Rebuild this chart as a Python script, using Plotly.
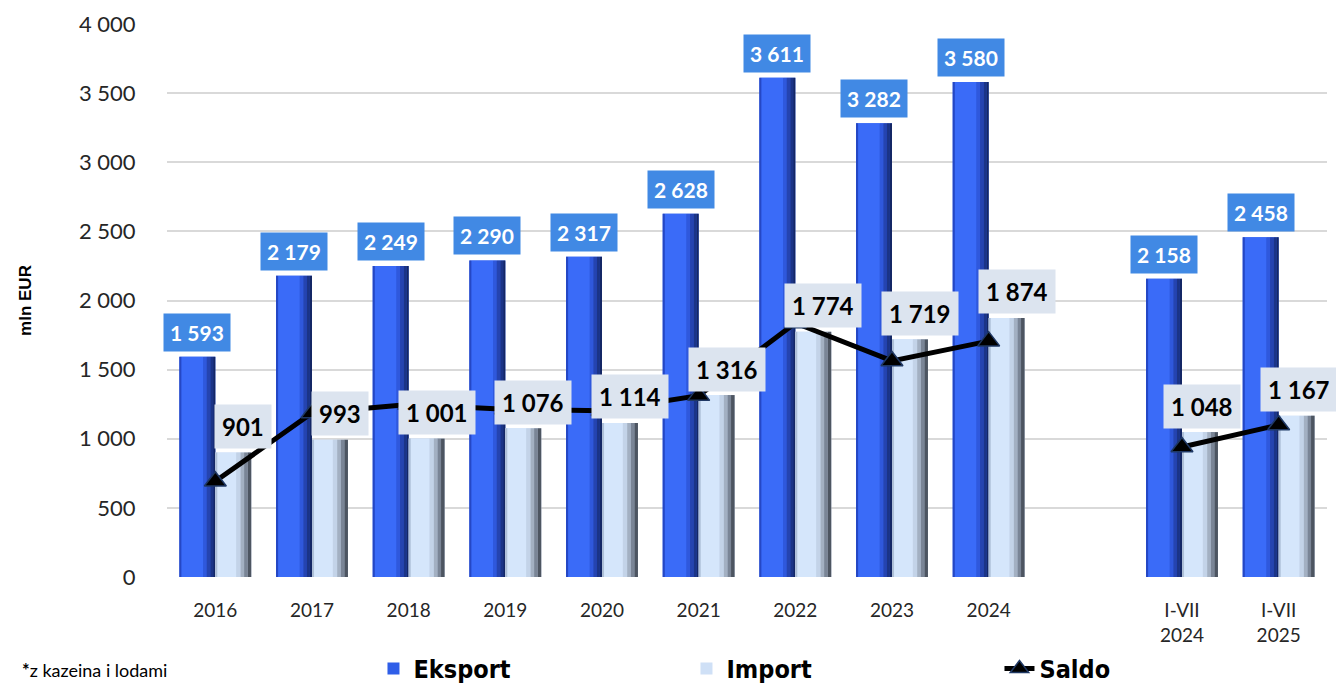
import plotly.graph_objects as go

# ---------------- data ----------------
categories = ["2016", "2017", "2018", "2019", "2020", "2021", "2022", "2023", "2024",
              "gap", "I-VII 2024", "I-VII 2025"]
tick_labels = ["2016", "2017", "2018", "2019", "2020", "2021", "2022", "2023", "2024",
               "", "I-VII<br>2024", "I-VII<br>2025"]
eksport = [1593, 2179, 2249, 2290, 2317, 2628, 3611, 3282, 3580, None, 2158, 2458]
import_ = [901, 993, 1001, 1076, 1114, 1316, 1774, 1719, 1874, None, 1048, 1167]
saldo = [692, 1186, 1248, 1214, 1203, 1312, 1837, 1563, 1706, None, 940, 1100]

# ---------------- style ----------------
BW = 0.372          # width of one bar (category units)
CAT_PX = 96.7       # approx pixels per category
FONT = "Lato"


def fmt(v):
    return f"{v:,}".replace(",", " ")


fig = go.Figure()


def add_bar(values, start, strips, name, legend_color):
    fig.add_trace(go.Bar(
        x=categories, y=values, name=name, offset=start, width=BW,
        marker=dict(color=legend_color, line=dict(width=0)),
        legendgroup=name, showlegend=True, hoverinfo="skip"))
    for a, b, color in strips:
        fig.add_trace(go.Bar(
            x=categories, y=values, name=name, offset=start + a * BW, width=(b - a) * BW,
            marker=dict(color=color, line=dict(width=0)),
            legendgroup=name, showlegend=False, hoverinfo="skip"))


eks_strips = [
    (0.00, 0.06, "#2547c4"),
    (0.06, 0.66, "#3a6bf8"),
    (0.66, 0.76, "#2f58dc"),
    (0.76, 0.86, "#2544b0"),
    (0.86, 0.94, "#1b3487"),
    (0.94, 1.00, "#142765"),
]
imp_strips = [
    (0.00, 0.06, "#aebfd6"),
    (0.06, 0.58, "#d5e6fb"),
    (0.58, 0.70, "#c3d3e8"),
    (0.70, 0.80, "#a3b0c2"),
    (0.80, 0.90, "#7a8596"),
    (0.90, 1.00, "#4d5561"),
]

add_bar(eksport, -BW, eks_strips, "Eksport", "#2f5ee8")
add_bar(import_, 0.0, imp_strips, "Import", "#cfe0f6")

fig.add_trace(go.Scatter(
    x=categories, y=saldo, name="Saldo", mode="lines+markers",
    line=dict(color="black", width=5),
    marker=dict(symbol="triangle-up", size=19, color="black",
                line=dict(color="#1f3864", width=1.5)),
    connectgaps=False, hoverinfo="skip"))

# ---------------- labels ----------------
annotations = []
for i, v in enumerate(eksport):
    if v is None:
        continue
    annotations.append(dict(
        x=i, y=v, xref="x", yref="y", text=fmt(v), showarrow=False,
        xshift=-BW / 2 * CAT_PX, yshift=5, yanchor="bottom",
        bgcolor="#4189e4", borderpad=6,
        font=dict(family=FONT, size=21, color="white", weight="bold")))
for i, v in enumerate(import_):
    if v is None:
        continue
    annotations.append(dict(
        x=i, y=v, xref="x", yref="y", text=fmt(v), showarrow=False,
        xshift=28 if i < 10 else 20, yshift=26, yanchor="middle",
        bgcolor="#dce4ef", borderpad=7,
        font=dict(family=FONT, size=24, color="black", weight="bold")))

annotations.append(dict(
    x=(20 - 167) / 1160, xref="paper", xanchor="left", y=-0.168, yref="paper",
    yanchor="middle", text="<b>*</b>z kazeina i lodami", showarrow=False,
    font=dict(family=FONT, size=18, color="black")))

fig.update_layout(
    width=1336, height=684,
    margin=dict(l=167, r=9, t=24, b=107, autoexpand=False),
    plot_bgcolor="white", paper_bgcolor="white",
    barmode="overlay",
    separators=", ",
    font=dict(family=FONT, color="#262626"),
    annotations=annotations,
    legend=dict(
        orientation="h", x=0.178, xanchor="left", y=-0.166, yanchor="middle",
        entrywidth=268, entrywidthmode="pixels",
        font=dict(family="Liberation Sans Narrow, DejaVu Sans Condensed", size=25,
                  color="black", weight="bold"),
        traceorder="normal", itemclick=False, itemdoubleclick=False),
    xaxis=dict(
        type="category", categoryorder="array", categoryarray=categories,
        range=[-0.5, len(categories) - 0.5],
        tickvals=categories, ticktext=tick_labels,
        tickfont=dict(family=FONT, size=19, color="#262626"),
        ticks="outside", ticklen=16, tickcolor="rgba(0,0,0,0)",
        showgrid=False, showline=False, zeroline=False),
    yaxis=dict(
        range=[0, 4000], dtick=500, tickformat=",d",
        tickfont=dict(family=FONT, size=22, color="#262626"),
        ticks="outside", ticklen=26, tickcolor="rgba(0,0,0,0)",
        showgrid=True, gridcolor="#d9d9d9", gridwidth=2,
        zeroline=False, showline=False,
        title=dict(text="mln EUR", standoff=42,
                   font=dict(family="Liberation Sans, Arial", size=17,
                             color="black", weight="bold"))),
)

fig.write_html("out.html", config={"displayModeBar": False},
               post_script="document.body.style.margin='0';")
